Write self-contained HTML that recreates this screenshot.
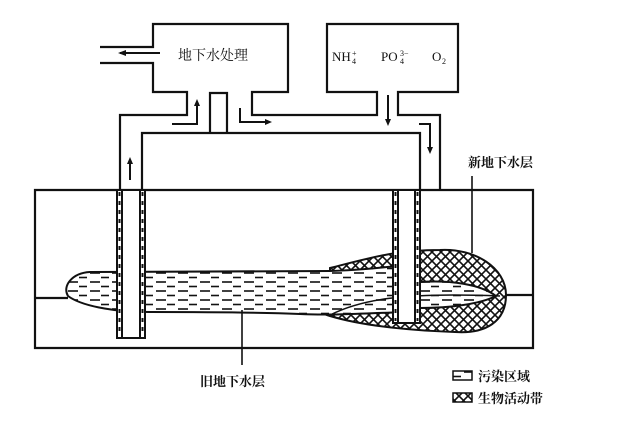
<!DOCTYPE html>
<html><head><meta charset="utf-8"><style>
body{margin:0;background:#fff}
svg{display:block}
text{font-family:"Liberation Serif","Noto Serif CJK SC",serif;fill:#111}
</style></head><body>
<svg width="640" height="426" viewBox="0 0 640 426" xmlns="http://www.w3.org/2000/svg">
<defs>
<pattern id="dash" width="22" height="9" patternUnits="userSpaceOnUse">
<rect width="22" height="9" fill="#fff"/>
<line x1="2" y1="3" x2="12" y2="3" stroke="#111" stroke-width="1.6"/>
<line x1="13" y1="7.5" x2="21" y2="7.5" stroke="#111" stroke-width="1.6"/>
</pattern>
<pattern id="hatch" width="9" height="9" patternUnits="userSpaceOnUse">
<rect width="9" height="9" fill="#fff"/>
<path d="M0 0L9 9M9 0L0 9" stroke="#111" stroke-width="1.6"/>
</pattern>
</defs>
<g fill="none" stroke="#111" stroke-width="2.2">
<path d="M100 47H153V24H288V92H252V115H377V92H327V24H458V92H398V115H440V190"/>
<path d="M100 63H153V92H187V115H120V190"/>
<path d="M142 190V133H420V190"/>
<path d="M210 133V93H227V133" />
<path d="M35 190H533V348H35Z"/>
<path d="M35 298H68"/><path d="M500 295H533"/>
</g>
<path d="M330 268 C370 258 395 250 440 250 C475 248 506 268 506 295 C506 322 485 334 455 332 C400 330 360 325 330 316 C315 312 320 304 330 300Z" fill="url(#hatch)" stroke="#111" stroke-width="2"/>
<path d="M90 272 L330 271 C370 270 400 265 420 264 L420 282 C450 280 480 284 496 296 C480 304 450 308 420 308 L420 312 C380 312 340 316 300 314 C250 312 200 312 150 312 C110 312 80 305 68 296 C62 286 72 273 90 272Z" fill="url(#dash)" stroke="#111" stroke-width="2"/>
<path d="M330 315 C360 300 400 292 500 296" fill="none" stroke="#111" stroke-width="1.5"/>
<g stroke="#111" stroke-width="2">
<rect x="117" y="190" width="28" height="148" fill="#fff"/>
<rect x="122" y="190" width="18" height="148" fill="#fff"/>
<rect x="393" y="190" width="27" height="133" fill="#fff"/>
<rect x="398" y="190" width="17" height="133" fill="#fff"/>
</g>
<g stroke="#111" stroke-width="2" stroke-dasharray="4 5">
<line x1="119.5" y1="192" x2="119.5" y2="336"/><line x1="142.5" y1="192" x2="142.5" y2="336"/>
<line x1="395.5" y1="192" x2="395.5" y2="321"/><line x1="417.5" y1="192" x2="417.5" y2="321"/>
</g>
<g stroke="#111" stroke-width="1.6">
<line x1="472" y1="176" x2="472" y2="253"/>
<line x1="242" y1="310" x2="242" y2="365"/>
</g>
<g stroke="#111" stroke-width="2" fill="none">
<path d="M120 53H160"/>
<path d="M130 180V160"/>
<path d="M172 124H197V102"/>
<path d="M240 108V122H268"/>
<path d="M388 95V122"/>
<path d="M419 124H430V150"/>
</g>
<g fill="#111">
<path d="M118 53l8-3v6z"/>
<path d="M130 157l-3 7h6z"/>
<path d="M197 99l-3 7h6z"/>
<path d="M272 122l-7-3v6z"/>
<path d="M388 126l-3-7h6z"/>
<path d="M430 154l-3-7h6z"/>
</g>
<text x="178" y="60" font-size="14">地下水处理</text>
<text x="332" y="61" font-size="13">NH</text><text x="352" y="56" font-size="8">+</text><text x="352" y="64" font-size="8">4</text>
<text x="381" y="61" font-size="13">PO</text><text x="400" y="56" font-size="8">3−</text><text x="400" y="64" font-size="8">4</text>
<text x="432" y="61" font-size="13">O</text><text x="442" y="64" font-size="8">2</text>
<text x="468" y="167" font-size="13" font-family="Liberation Sans,Noto Sans CJK SC,sans-serif" font-weight="bold">新地下水层</text>
<text x="200" y="386" font-size="13" font-family="Liberation Sans,Noto Sans CJK SC,sans-serif" font-weight="bold">旧地下水层</text>
<rect x="453" y="371" width="19" height="9" fill="url(#dash)" stroke="#111" stroke-width="1.5"/>
<rect x="453" y="393" width="19" height="9" fill="url(#hatch)" stroke="#111" stroke-width="1.5"/>
<text x="478" y="381" font-size="13" font-family="Liberation Sans,Noto Sans CJK SC,sans-serif" font-weight="bold">污染区域</text>
<text x="478" y="403" font-size="13" font-family="Liberation Sans,Noto Sans CJK SC,sans-serif" font-weight="bold">生物活动带</text>
</svg>
</body></html>
